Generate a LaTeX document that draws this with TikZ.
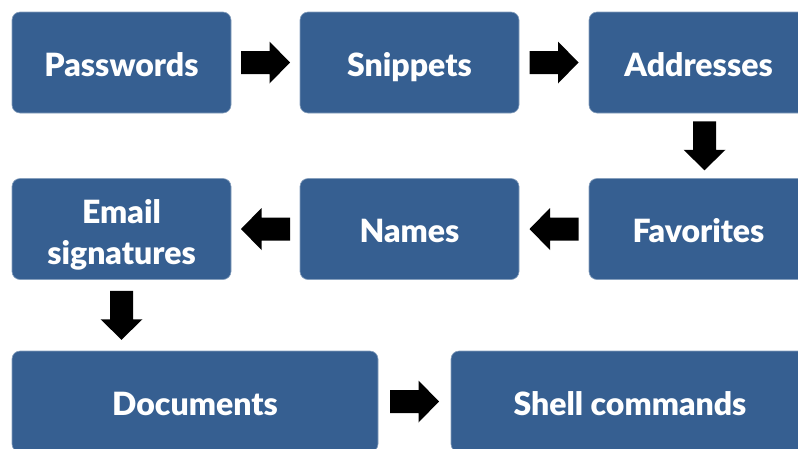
\documentclass[tikz,border=0pt]{standalone}
\usepackage{fontspec}
\IfFontExistsTF{Lato Black}{\setmainfont{Lato Black}[BoldFont={Lato Black}]}{\setmainfont{Lato}}
\usetikzlibrary{calc}
\definecolor{boxblue}{RGB}{54,95,145}
\tikzset{
  stepbox/.style={fill=boxblue, draw=boxblue!60!white, line width=0.6pt,
    rounded corners=8pt, text=white, font=\bfseries\fontsize{32}{37}\selectfont,
    align=center, minimum height=101pt, inner sep=0pt,
    text height=27pt, text depth=0pt},
  narrowbox/.style={stepbox, minimum width=219pt},
  blockarrow/.pic={\fill[black] (-24.5,-11.5) -- (4,-11.5) -- (4,-21) -- (24.5,0)
     -- (4,21) -- (4,11.5) -- (-24.5,11.5) -- cycle;}
}
\begin{document}
\begin{tikzpicture}[x=1pt, y=-1pt]
\useasboundingbox (0,0) rectangle (798,448);
\clip (0,0) rectangle (798,448);
% first row
\node[narrowbox] (pw) at (121.5,62.5) {Passwords};
\node[narrowbox] (sn) at (409.5,62.5) {Snippets};
\node[narrowbox] (ad) at (698.5,62.5) {Addresses};
% second row
\node[narrowbox] (fa) at (698.5,229) {Favorites};
\node[narrowbox] (na) at (409.5,229) {Names};
\node[narrowbox, text height=70pt] (em) at (121.5,229) {Email\\[4pt]signatures};
% third row
\node[stepbox, minimum width=366pt] (doc) at (195,401.5) {Documents};
\node[stepbox, minimum width=358pt] (sh) at (630,401.5) {Shell commands};
% block arrows between the steps
\path ($(pw.east)!0.5!(sn.west)$) pic {blockarrow};
\path ($(sn.east)!0.5!(ad.west)$) pic {blockarrow};
\path ($(ad.south)!0.5!(ad.south |- fa.north)$) ++(6,0) pic[rotate=-90] {blockarrow};
\path ($(fa.west)!0.5!(na.east)$) pic[rotate=180] {blockarrow};
\path ($(na.west)!0.5!(em.east)$) pic[rotate=180] {blockarrow};
\path ($(em.south)!0.5!(em.south |- doc.north)$) pic[rotate=-90] {blockarrow};
\path ($(doc.east)!0.5!(sh.west)$) pic {blockarrow};
\end{tikzpicture}
\end{document}
